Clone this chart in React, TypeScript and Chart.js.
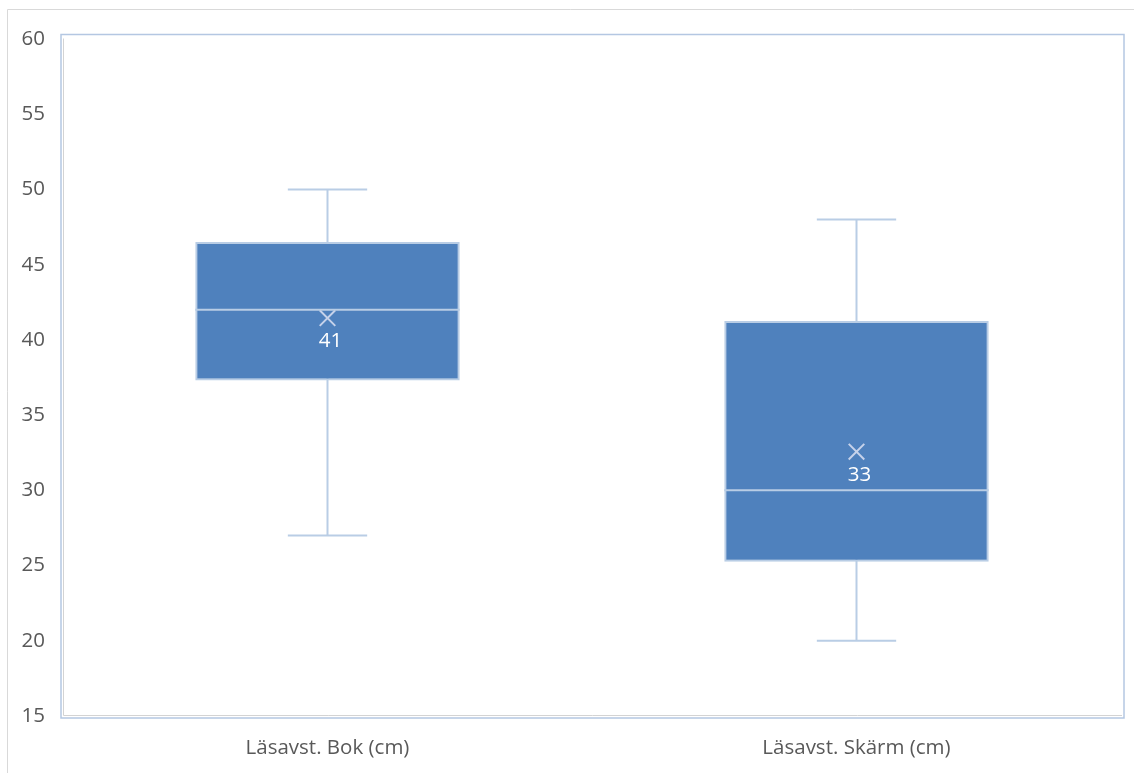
import React, { useEffect, useRef } from 'react';
import { Chart, registerables } from 'chart.js';

Chart.register(...registerables);

const categories = ['Läsavst. Bok (cm)', 'Läsavst. Skärm (cm)'];
const minValues = [27, 20];
const q1Values = [37.3, 25.25];
const medianValues = [42, 30];
const q3Values = [46.5, 41.25];
const maxValues = [50, 48];
const meanValues = [41.45, 32.57];
const meanLabels = ['41', '33'];
const yMin = 15;
const yMax = 60;
const yStep = 5;

const FONT = '"Open Sans", "Liberation Sans", sans-serif';
const FONT_SIZE = 20.5;
const TEXT_COLOR = '#595959';
const BOX_FILL = '#4F81BD';
const LIGHT = '#B9CDE5';

const boxPlugin = {
  id: 'boxExtras',
  beforeDatasetsDraw(chart: any) {
    const { ctx, chartArea, scales } = chart;
    const x = scales.x;
    const y = scales.y;
    ctx.save();
    // outer chart border
    ctx.strokeStyle = '#D9D9D9';
    ctx.lineWidth = 1;
    ctx.beginPath();
    ctx.moveTo(7.5, chart.height);
    ctx.lineTo(7.5, 9.5);
    ctx.lineTo(chart.width, 9.5);
    ctx.stroke();
    // plot frame (slightly larger than the value range)
    const fl = chartArea.left - 2;
    const fr = chartArea.right + 3;
    const ft = chartArea.top - 4.5;
    const fb = chartArea.bottom + 2;
    ctx.strokeStyle = '#D3D3D3';
    ctx.lineWidth = 1;
    ctx.beginPath();
    ctx.moveTo(fl + 2.5, ft + 4);
    ctx.lineTo(fl + 2.5, fb - 2.5);
    ctx.lineTo(fr - 2, fb - 2.5);
    ctx.stroke();
    ctx.strokeStyle = '#B4C7E2';
    ctx.lineWidth = 1.5;
    ctx.strokeRect(fl, ft, fr - fl, fb - ft);
    // whiskers
    ctx.strokeStyle = LIGHT;
    ctx.lineWidth = 2;
    const meta = chart.getDatasetMeta(0);
    categories.forEach((_, i) => {
      const cx = x.getPixelForValue(i);
      const bw = meta.data[i] ? meta.data[i].width : 266;
      const cap = bw * 0.3;
      const yMinP = y.getPixelForValue(minValues[i]);
      const yMaxP = y.getPixelForValue(maxValues[i]);
      ctx.beginPath();
      ctx.moveTo(cx, yMinP);
      ctx.lineTo(cx, yMaxP);
      ctx.moveTo(cx - cap / 2, yMinP);
      ctx.lineTo(cx + cap / 2, yMinP);
      ctx.moveTo(cx - cap / 2, yMaxP);
      ctx.lineTo(cx + cap / 2, yMaxP);
      ctx.stroke();
    });
    ctx.restore();
  },
  afterDatasetsDraw(chart: any) {
    const { ctx, scales } = chart;
    const x = scales.x;
    const y = scales.y;
    const meta = chart.getDatasetMeta(0);
    ctx.save();
    ctx.strokeStyle = LIGHT;
    ctx.lineWidth = 2;
    categories.forEach((_, i) => {
      const cx = x.getPixelForValue(i);
      const bw = meta.data[i] ? meta.data[i].width : 266;
      const my = y.getPixelForValue(medianValues[i]);
      ctx.beginPath();
      ctx.moveTo(cx - bw / 2, my);
      ctx.lineTo(cx + bw / 2, my);
      ctx.stroke();
    });
    ctx.fillStyle = '#FFFFFF';
    ctx.font = `${FONT_SIZE}px ${FONT}`;
    ctx.textAlign = 'center';
    ctx.textBaseline = 'middle';
    categories.forEach((_, i) => {
      const cx = x.getPixelForValue(i);
      const my = y.getPixelForValue(meanValues[i]);
      ctx.fillText(meanLabels[i], cx + 3, my + 23);
    });
    ctx.restore();
  },
};

export default function App() {
  const ref = useRef<HTMLCanvasElement>(null);
  useEffect(() => {
    if (!ref.current) return;
    const chart = new Chart(ref.current, {
      type: 'bar',
      data: {
        labels: categories,
        datasets: [
          {
            type: 'bar',
            data: categories.map((_, i) => [q1Values[i], q3Values[i]]),
            backgroundColor: BOX_FILL,
            borderColor: LIGHT,
            borderWidth: 2,
            borderSkipped: false,
            barPercentage: 0.5,
            categoryPercentage: 1,
            order: 1,
          } as any,
          {
            type: 'line',
            data: meanValues,
            showLine: false,
            pointStyle: 'crossRot',
            pointRadius: 11,
            pointBorderColor: '#C6D2EA',
            pointBorderWidth: 2,
            pointBackgroundColor: '#C6D2EA',
            order: 0,
          } as any,
        ],
      },
      options: {
        responsive: false,
        animation: false,
        layout: { padding: { left: 0, top: 39, right: 11, bottom: 0 } },
        plugins: {
          legend: { display: false },
          tooltip: { enabled: false },
          title: { display: false },
        },
        scales: {
          x: {
            grid: { display: false, drawTicks: false },
            border: { display: false },
            ticks: { color: TEXT_COLOR, font: { family: FONT, size: FONT_SIZE }, padding: 20 },
            afterFit: (s: any) => { s.height = 57; },
          },
          y: {
            min: yMin,
            max: yMax,
            grid: { display: false, drawTicks: false },
            border: { display: false },
            ticks: { stepSize: yStep, color: TEXT_COLOR, font: { family: FONT, size: FONT_SIZE }, padding: 18 },
            afterFit: (s: any) => { s.width = 63; },
          },
        },
      },
      plugins: [boxPlugin],
    });
    return () => chart.destroy();
  }, []);
  return (
    <div style={{ position: 'absolute', left: 0, top: 0, width: 1134, height: 773, background: '#fff' }}>
      <canvas ref={ref} width={1134} height={773} style={{ display: 'block' }} />
    </div>
  );
}
